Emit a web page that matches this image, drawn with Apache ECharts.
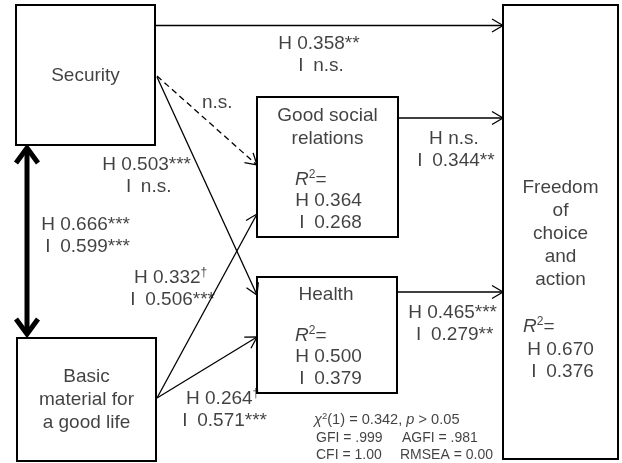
<!DOCTYPE html>
<html><head><meta charset="utf-8">
<script src="https://cdn.jsdelivr.net/npm/echarts@6/dist/echarts.min.js"></script>
<style>html,body{margin:0;padding:0;background:#fff}#c{width:622px;height:463px}</style>
</head><body><div id="c"></div>
<script>
// ---- Content ----
const nodeNames = ['Security', 'Good social\nrelations', 'Health', 'Basic\nmaterial for\na good life', 'Freedom\nof\nchoice\nand\naction'];
const r2H = [null, '0.364', '0.500', null, '0.670'];
const r2I = [null, '0.268', '0.379', null, '0.376'];
const pathFrom = [0, 0, 0, 3, 3, 1, 2, 0];
const pathTo   = [4, 1, 2, 1, 2, 4, 4, 3];
const coefH = ['0.358**', 'n.s.', '0.503***', '0.332†', '0.264†', 'n.s.', '0.465***', '0.666***'];
const coefI = ['n.s.', null, 'n.s.', '0.506***', '0.571***', '0.344**', '0.279**', '0.599***'];
const fitChi = ['1', '0.342', '0.05'];
const fitRow2 = ['GFI = .999', 'AGFI = .981'];
const fitRow3 = ['CFI = 1.00', 'RMSEA = 0.00'];

// ---- Layout (diagram coordinates, 1 unit = 1 px) ----
const nodeBox = [[16,5,155,145],[257,97,398,237],[257,277,397,393],[17,338,156,461],[503,5,618,459]];
const nodeTextPos = [[85.5,76],[327.5,127.5],[326,295],[86.5,400],[560.5,234]];
const r2Pos = [null,[295,180],[295,336],null,[523,327]];
const r2ValPos = [null,[295,212],[295,367.5],null,[527,361]];
const pathStart = [[155,25.5],[157,76],[157,77],[157,398],[157,398],[398,118],[397,292],[27,148]];
const pathEnd   = [[503,25.5],[257,165],[257,295],[257,214],[257,337],[503,118],[503,292],[27,334]];
const pathKind  = [0,1,0,0,0,0,0,2]; // 0 solid, 1 dashed, 2 thick double-headed
const pathLabelPos = [[278,55],[202,103],[102,175.5],[126,289],[178,409.5],[413,150],[408,324],[41,236]];
const fitPos = [[314,420],[316,438],[402,438],[316,455],[400,455]];

const FONT = '"Liberation Sans", Arial, Helvetica, sans-serif';
const INK = '#111';

function coef(s) {
  if (s.endsWith('†')) return '{n|' + s.slice(0, -1) + '}{sup|†}';
  return '{n|' + s + '}';
}

const texts = [];
nodeNames.forEach((nm, i) => {
  texts.push({ value: nodeTextPos[i], txt: nm.split('\n').map(l => '{c|' + l + '}').join('\n'), align: 'center' });
  if (r2H[i]) {
    texts.push({ value: r2Pos[i], txt: '{ri|R}{sup|2}{n|=}', align: 'left' });
    texts.push({ value: r2ValPos[i], txt: '{k|H}{n| ' + r2H[i] + '}\n{k|I}{n| ' + r2I[i] + '}', align: 'left' });
  }
});
pathFrom.forEach((f, i) => {
  let t;
  if (coefI[i] == null) t = coef(coefH[i]);
  else t = '{k|H}' + coef(' ' + coefH[i]) + '\n{k|I}' + coef(' ' + coefI[i]);
  texts.push({ value: pathLabelPos[i], txt: t, align: 'left' });
});
texts.push({ value: fitPos[0], txt: '{xi|χ}{ssup|2}{x|(' + fitChi[0] + ') = ' + fitChi[1] + ', }{xp|p}{x| > ' + fitChi[2] + '}', align: 'left' });
texts.push({ value: fitPos[1], txt: '{s|' + fitRow2[0] + '}', align: 'left' });
texts.push({ value: fitPos[2], txt: '{s|' + fitRow2[1] + '}', align: 'left' });
texts.push({ value: fitPos[3], txt: '{s|' + fitRow3[0] + '}', align: 'left' });
texts.push({ value: fitPos[4], txt: '{s|' + fitRow3[1] + '}', align: 'left' });

const boxData = nodeBox.map(b => b.slice());
const pathData = pathStart.map((s, i) => [s[0], s[1], pathEnd[i][0], pathEnd[i][1], pathKind[i]]);

function head(tip, from, L, W) {
  const dx = tip[0] - from[0], dy = tip[1] - from[1];
  const len = Math.sqrt(dx*dx + dy*dy);
  const ux = dx/len, uy = dy/len, nx = -uy, ny = ux;
  return [[tip[0] - L*ux + W*nx, tip[1] - L*uy + W*ny], [tip[0], tip[1]], [tip[0] - L*ux - W*nx, tip[1] - L*uy - W*ny]];
}

const chart = echarts.init(document.getElementById('c'), null, { renderer: 'canvas' });
chart.setOption({
  animation: false,
  backgroundColor: '#fff',
  grid: { left: 0, right: 0, top: 0, bottom: 0 },
  xAxis: { type: 'value', min: 0, max: 622, show: false },
  yAxis: { type: 'value', min: 0, max: 463, inverse: true, show: false },
  series: [
    {
      type: 'custom', z: 1, silent: true,
      encode: { x: [0, 2], y: [1, 3] },
      data: boxData,
      renderItem(params, api) {
        const p0 = api.coord([api.value(0), api.value(1)]);
        const p1 = api.coord([api.value(2), api.value(3)]);
        return { type: 'rect', shape: { x: p0[0], y: p0[1], width: p1[0]-p0[0], height: p1[1]-p0[1] },
          style: { fill: '#fff', stroke: '#000', lineWidth: 2 } };
      }
    },
    {
      type: 'custom', z: 2, silent: true,
      encode: { x: [0, 2], y: [1, 3] },
      data: pathData,
      renderItem(params, api) {
        const a = api.coord([api.value(0), api.value(1)]);
        const b = api.coord([api.value(2), api.value(3)]);
        const kind = api.value(4);
        const thick = kind === 2;
        const lw = thick ? 5 : 1.3;
        const L = thick ? 15 : 11, W = thick ? 11 : 6.5;
        const children = [];
        let sa = a, sb = b;
        if (thick) {
          const dx = b[0]-a[0], dy = b[1]-a[1], len = Math.hypot(dx, dy);
          sa = [a[0] + dx/len*3, a[1] + dy/len*3];
          sb = [b[0] - dx/len*3, b[1] - dy/len*3];
        }
        children.push({ type: 'line', shape: { x1: sa[0], y1: sa[1], x2: sb[0], y2: sb[1] },
          style: { stroke: '#000', lineWidth: lw, lineDash: kind === 1 ? [6, 4] : null } });
        children.push({ type: 'polyline', shape: { points: head(b, a, L, W) },
          style: { stroke: '#000', lineWidth: lw, fill: null, lineJoin: 'miter', lineCap: 'butt' } });
        if (thick) children.push({ type: 'polyline', shape: { points: head(a, b, L, W) },
          style: { stroke: '#000', lineWidth: lw, fill: null, lineJoin: 'miter', lineCap: 'butt' } });
        return { type: 'group', children };
      }
    },
    {
      type: 'scatter', z: 5, silent: true,
      symbolSize: 1, itemStyle: { color: 'rgba(0,0,0,0)' },
      data: texts.map(t => ({ value: t.value, txt: t.txt, label: { align: t.align } })),
      label: {
        show: true, position: 'inside', verticalAlign: 'middle',
        formatter: p => p.data.txt,
        rich: {
          c: { fontFamily: FONT, fontSize: 19, color: INK, lineHeight: 23, align: 'center' },
          n: { fontFamily: FONT, fontSize: 19, color: INK, lineHeight: 22 },
          k: { fontFamily: FONT, fontSize: 19, color: INK, lineHeight: 22, width: 14, align: 'center' },
          ri: { fontFamily: FONT, fontSize: 19, color: INK, lineHeight: 22, fontStyle: 'italic' },
          sup: { fontFamily: FONT, fontSize: 12, color: INK, lineHeight: 12, verticalAlign: 'top' },
          s: { fontFamily: FONT, fontSize: 14, color: INK, lineHeight: 17 },
          x: { fontFamily: FONT, fontSize: 14.6, color: INK, lineHeight: 17 },
          xp: { fontFamily: FONT, fontSize: 14.6, color: INK, lineHeight: 17, fontStyle: 'italic' },
          xi: { fontFamily: FONT, fontSize: 14.6, color: INK, lineHeight: 17, fontStyle: 'italic' },
          ssup: { fontFamily: FONT, fontSize: 9.5, color: INK, lineHeight: 9, verticalAlign: 'top' }
        }
      }
    }
  ]
});
</script></body></html>
